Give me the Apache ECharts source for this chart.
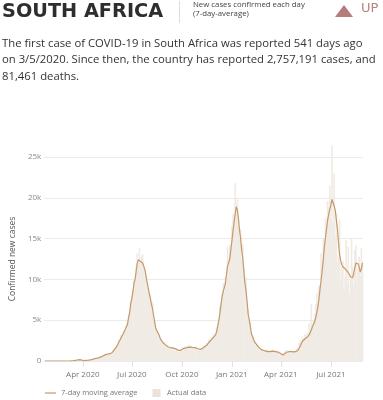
<!DOCTYPE html>
<html>
<head>
<meta charset="utf-8">
<script src="https://cdn.jsdelivr.net/npm/echarts@6/dist/echarts.min.js"></script>
<style>
html,body{margin:0;padding:0;background:#fff;}
#chart{width:383px;height:400px;}
</style>
</head>
<body>
<div id="chart"></div>
<script>
// ---- Data (thousands of cases), one value every 2 days starting 2020-01-22 ----
const startDate = '2020-01-22';
const stepDays = 2;

const movingAverage = [
  0,0,0,0,0,0,0,0,0,0,
  0,0,0,0,0,0,0,0,0,0,
  0,0,0,0,0.01,0.02,0.03,0.05,0.08,0.1,
  0.12,0.14,0.16,0.15,0.1,0.07,0.06,0.07,0.08,0.09,
  0.1,0.12,0.14,0.17,0.2,0.25,0.3,0.32,0.35,0.38,
  0.42,0.48,0.53,0.6,0.66,0.72,0.78,0.82,0.86,0.88,
  0.9,0.94,1.05,1.2,1.4,1.6,1.75,2.0,2.3,2.55,
  2.8,3.0,3.3,3.6,3.85,4.0,4.5,5.3,5.9,7.0,
  7.6,8.5,9.5,10.0,11.0,12.0,12.4,12.5,12.2,12.0,
  12.0,11.8,11.2,10.4,9.7,9.0,8.3,7.7,7.0,6.4,
  5.6,4.8,4.0,3.7,3.6,3.2,2.8,2.55,2.35,2.2,
  2.08,1.95,1.85,1.75,1.68,1.65,1.62,1.6,1.57,1.55,
  1.5,1.45,1.38,1.3,1.22,1.3,1.45,1.5,1.55,1.58,
  1.62,1.65,1.68,1.7,1.68,1.66,1.65,1.63,1.6,1.6,
  1.55,1.5,1.45,1.43,1.45,1.55,1.65,1.75,1.82,1.95,
  2.1,2.3,2.5,2.6,2.75,2.9,3.05,3.2,3.6,4.3,
  5.0,5.9,6.9,7.9,8.5,9.0,9.5,10.6,11.6,11.6,
  12.5,13.6,14.7,15.9,17.0,18.0,18.9,18.5,17.5,16.0,
  15.0,13.6,12.6,11.0,9.5,8.6,7.2,5.7,5.0,4.2,
  3.3,3.0,2.6,2.3,2.1,1.96,1.8,1.65,1.5,1.4,
  1.35,1.3,1.25,1.2,1.15,1.14,1.12,1.15,1.15,1.2,
  1.2,1.18,1.15,1.12,1.08,1.05,1.0,0.9,0.8,0.74,
  0.8,0.95,1.05,1.1,1.14,1.14,1.15,1.14,1.13,1.12,
  1.14,1.15,1.2,1.35,1.55,1.9,2.2,2.45,2.6,2.7,
  2.8,2.9,3.0,3.2,3.5,3.8,4.2,4.5,4.8,5.3,
  5.9,6.6,7.6,8.8,9.9,11.1,12.4,14.0,15.1,16.2,
  17.3,18.0,18.6,19.1,19.8,19.6,19.0,18.5,17.3,16.2,
  14.5,13.0,12.3,11.8,11.55,11.4,11.3,11.2,11.0,10.8,
  10.6,10.3,10.1,10.2,10.4,11.4,12.0,12.1,11.9,11.5,
  10.9,11.3,12.0
];

const actualData = [
  0,0,0,0,0,0,0,0,0,0,
  0,0,0,0,0,0,0,0,0,0,
  0,0,0,0,0.01,0.01,0.02,0.05,0.06,0.11,
  0.1,0.24,0.14,0.2,0.05,0.09,0.03,0.07,0.1,0.06,
  0.09,0.14,0.1,0.2,0.24,0.27,0.32,0.28,0.4,0.33,
  0.45,0.42,0.6,0.55,0.72,0.66,0.9,0.75,0.95,0.82,
  0.98,0.85,1.1,1.3,1.55,1.5,1.9,2.1,2.6,2.4,
  3.2,2.8,3.6,3.4,4.3,3.7,4.9,5.7,6.3,7.5,
  8.1,8.6,10.1,9.7,11.6,13.2,12.1,13.8,12.0,12.9,
  13.1,11.4,10.1,10.6,9.4,8.5,7.6,8.1,6.3,7.2,
  5.0,4.5,3.8,3.9,3.4,2.9,2.5,2.7,2.2,1.9,
  2.3,1.7,1.6,1.9,1.5,1.7,1.4,1.8,1.3,1.6,
  1.2,1.6,1.1,1.2,1.0,1.5,1.3,1.7,1.4,1.8,
  1.6,1.9,1.5,2.0,1.4,1.9,1.5,1.7,1.3,1.8,
  1.6,1.3,1.5,1.2,1.6,1.4,1.9,1.6,2.0,2.2,
  2.0,2.7,2.3,2.9,2.5,3.3,3.0,3.5,4.1,4.6,
  5.2,6.7,7.1,8.3,9.5,8.4,10.3,9.8,14.0,11.5,
  14.3,14.1,16.5,18.0,17.7,21.8,19.0,19.8,17.1,15.0,
  16.2,12.4,14.3,11.4,8.8,10.3,7.0,6.2,4.5,4.7,
  3.3,3.0,2.5,2.3,1.9,2.1,1.5,1.7,1.2,1.4,
  1.3,1.1,1.0,1.5,1.2,1.4,1.0,1.3,1.1,1.4,
  1.2,1.3,0.9,1.3,1.0,1.2,0.6,1.0,0.7,0.5,
  1.0,1.2,1.4,0.9,1.3,1.2,1.0,1.3,1.1,1.3,
  1.0,1.4,1.6,1.4,2.2,2.6,2.4,3.0,2.7,3.3,
  2.6,3.5,3.2,4.6,4.0,7.0,4.3,4.9,5.8,6.9,
  8.4,7.3,9.3,8.9,13.2,11.0,15.0,13.9,17.5,16.1,
  19.6,18.8,21.5,17.4,26.4,17.0,23.0,15.2,18.1,12.1,
  12.8,17.3,9.8,11.5,12.2,8.9,10.4,14.8,9.5,14.0,
  8.2,9.9,15.0,11.6,9.2,13.6,14.2,9.8,11.3,12.8,
  10.4,13.9,12.2
];

const xTickDates  = ['2020-04-01','2020-07-01','2020-10-01','2021-01-01','2021-04-01','2021-07-01'];
const xTickLabels = ['Apr 2020','Jul 2020','Oct 2020','Jan 2021','Apr 2021','Jul 2021'];
const yTicks = [0, 5, 10, 15, 20, 25];
const yTickLabels = ['0', '5k', '10k', '15k', '20k', '25k'];

const titleText = 'SOUTH AFRICA';
const subtitleLines = ['New cases confirmed each day', '(7-day-average)'];
const trendText = 'UP';
const paragraphLines = [
  'The first case of COVID-19 in South Africa was reported 541 days ago',
  'on 3/5/2020. Since then, the country has reported 2,757,191 cases, and',
  '81,461 deaths.'
];
const seriesNames = ['7-day moving average', 'Actual data'];

// ---- Build categories ----
const DAY = 86400000;
const t0 = Date.parse(startDate + 'T00:00:00Z');
const categories = movingAverage.map((_, i) => new Date(t0 + i * stepDays * DAY).toISOString().slice(0, 10));

const tickIndexLabel = {};
xTickDates.forEach((d, k) => {
  const t = Date.parse(d + 'T00:00:00Z');
  let best = 0, bestDiff = Infinity;
  categories.forEach((c, i) => {
    const diff = Math.abs(Date.parse(c + 'T00:00:00Z') - t);
    if (diff < bestDiff) { bestDiff = diff; best = i; }
  });
  tickIndexLabel[best] = xTickLabels[k];
});

const yLabelMap = {};
yTicks.forEach((v, i) => { yLabelMap[v] = yTickLabels[i]; });

const chart = echarts.init(document.getElementById('chart'), null, { renderer: 'canvas' });

const paraFont = "'Open Sans', sans-serif";
const paraSize = 11.3;
const option = {
  animation: false,
  backgroundColor: '#fff',
  grid: { left: 43, right: 20, top: 157, bottom: 39, containLabel: false },
  legend: {
    left: 40, top: 384,
    itemWidth: 11, itemHeight: 8, itemGap: 15,
    textStyle: { fontSize: 7.5, color: '#777', fontFamily: "'Open Sans', sans-serif" },
    data: [
      { name: seriesNames[0], icon: 'path://M0,0 L22,0 L22,2.4 L0,2.4 Z', itemStyle: { color: '#c49a68' } },
      { name: seriesNames[1], icon: 'path://M0,0 L8,0 L8,8 L0,8 Z', itemStyle: { color: '#ebe3d8' } }
    ],
    selectedMode: false
  },
  xAxis: {
    type: 'category',
    data: categories,
    boundaryGap: true,
    axisLine: { show: false },
    axisTick: {
      show: true, alignWithLabel: true, length: 6,
      interval: (i) => tickIndexLabel[i] !== undefined,
      lineStyle: { color: '#e2e2e2' }
    },
    axisLabel: {
      interval: (i) => tickIndexLabel[i] !== undefined,
      formatter: (v, i) => tickIndexLabel[i] || '',
      fontSize: 8, color: '#777', margin: 10,
      fontFamily: "'Open Sans', sans-serif"
    },
    splitLine: { show: false }
  },
  yAxis: {
    type: 'value',
    min: 0, max: 25, interval: 5,
    name: 'Confirmed new cases',
    nameLocation: 'middle',
    nameGap: 27,
    nameTextStyle: { fontSize: 8.5, color: '#555', fontFamily: "'Open Sans', sans-serif" },
    axisLine: { show: false },
    axisTick: { show: false },
    axisLabel: {
      fontSize: 8, color: '#888', margin: 3,
      fontFamily: "'Open Sans', sans-serif",
      formatter: (v) => yLabelMap[v] !== undefined ? yLabelMap[v] : ''
    },
    splitLine: { lineStyle: { color: '#ebebeb', width: 1 } }
  },
  series: [
    {
      name: seriesNames[1],
      type: 'bar',
      data: actualData,
      barWidth: 1.7,
      barGap: '-100%',
      clip: false,
      itemStyle: { color: '#f0ebe5' },
      emphasis: { disabled: true },
      z: 1
    },
    {
      name: seriesNames[0],
      type: 'line',
      data: movingAverage,
      symbol: 'none',
      showSymbol: false,
      lineStyle: { color: '#c49a68', width: 1.2 },
      itemStyle: { color: '#c49a68' },
      emphasis: { disabled: true },
      z: 3
    }
  ],
  graphic: [
    {
      type: 'text', left: 2, top: 2,
      style: { text: titleText, fontSize: 19.3, fontWeight: 'bold', fill: '#2e2e2e', fontFamily: "'DejaVu Sans', sans-serif" }
    },
    {
      type: 'line', shape: { x1: 179.5, y1: 1, x2: 179.5, y2: 23 },
      style: { stroke: '#dddddd', lineWidth: 1 }
    },
    {
      type: 'text', left: 193, top: 1,
      style: { text: subtitleLines[0], fontSize: 7.8, fill: '#444', fontFamily: "'Open Sans', sans-serif" }
    },
    {
      type: 'text', left: 193, top: 10,
      style: { text: subtitleLines[1], fontSize: 7.8, fill: '#444', fontFamily: "'Open Sans', sans-serif" }
    },
    {
      type: 'polygon', shape: { points: [[335, 17], [344, 5], [353, 17]] },
      style: { fill: '#b47d7a' }
    },
    {
      type: 'text', left: 361, top: 2,
      style: { text: trendText, fontSize: 13, fill: '#b8837f', fontFamily: "'DejaVu Sans', sans-serif" }
    },
    {
      type: 'text', left: 2, top: 38,
      style: { text: paragraphLines[0], fontSize: paraSize, fill: '#333', fontFamily: paraFont }
    },
    {
      type: 'text', left: 2, top: 54.5,
      style: { text: paragraphLines[1], fontSize: paraSize, fill: '#333', fontFamily: paraFont }
    },
    {
      type: 'text', left: 2, top: 71,
      style: { text: paragraphLines[2], fontSize: paraSize, fill: '#333', fontFamily: paraFont }
    }
  ]
};
chart.setOption(option);
</script>
</body>
</html>
